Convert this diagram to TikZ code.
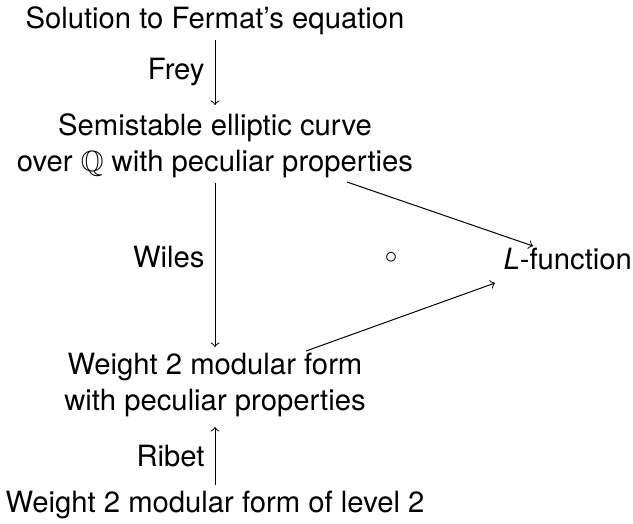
\documentclass[tikz,border=0pt]{standalone}
\usepackage{amssymb}
\usepackage{fontspec}
\setmainfont{TeX Gyre Heros}
\begin{document}
\begin{tikzpicture}[x=0.4pt,y=-0.4pt,
  txt/.style={inner sep=0pt,font=\fontsize{11.7}{14.2}\selectfont,align=center},
  lbl/.style={anchor=east,inner sep=0pt,xshift=-4pt,font=\fontsize{11.7}{14}\selectfont},
  arr/.style={->,line width=0.4pt}]
\useasboundingbox (0,0) rectangle (633,523);
\node[txt,anchor=base] (top) at (215,28) {Solution to Fermat’s equation};
\node[txt,anchor=base] (semi) at (215,171) {Semistable elliptic curve\\over $\mathbb{Q}$ with peculiar properties};
\node[txt,anchor=base] (wt) at (215,410) {Weight 2 modular form\\with peculiar properties};
\node[txt,anchor=base] (bot) at (215,512) {Weight 2 modular form of level 2};
\node[txt,anchor=base west] (L) at (503,269) {\textit{L}-function};
\node[inner sep=0pt] (c) at (391,258) {$\circ$};
\draw[arr] ([shift={(0,12)}]top.base) -- node[lbl]{Frey} ([shift={(0,-66)}]semi.base);
\draw[arr] ([shift={(0,12)}]semi.base) -- node[lbl,yshift=3pt]{Wiles} ([shift={(0,-63)}]wt.base);
\draw[arr] ([shift={(0,-27)}]bot.base) -- node[lbl]{Ribet} ([shift={(0,17)}]wt.base);
\draw[arr] ([shift={(132,11)}]semi.base) -- ([shift={(30,-23)}]L.base west);
\draw[arr] ([shift={(91,-59)}]wt.base) -- ([shift={(-8,14)}]L.base west);
\end{tikzpicture}
\end{document}
